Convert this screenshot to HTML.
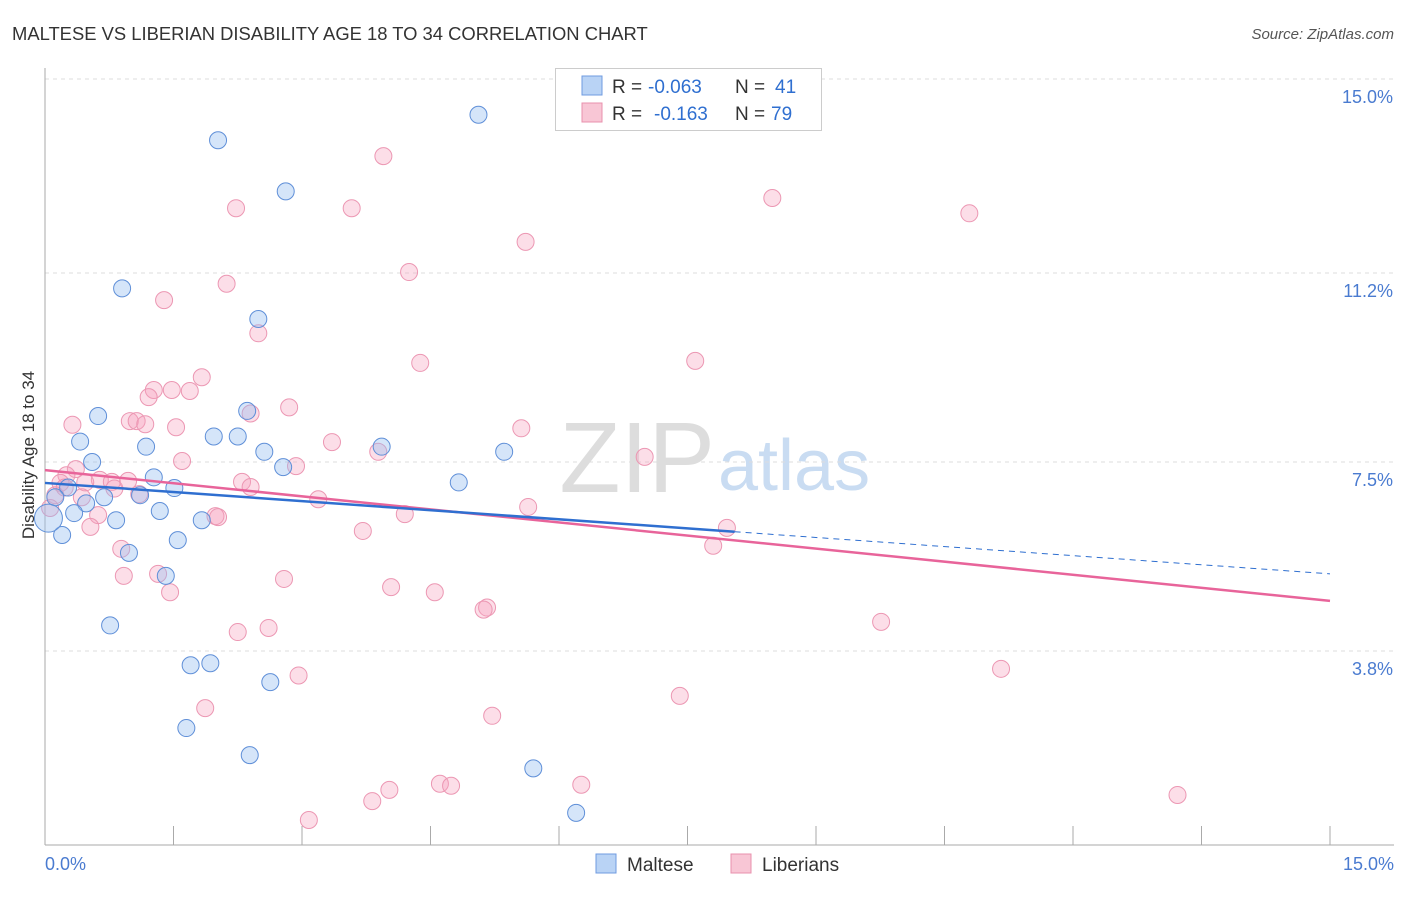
<!DOCTYPE html>
<html><head><meta charset="utf-8"><style>
body{margin:0;background:#fff;font-family:"Liberation Sans",sans-serif;}
svg text{font-family:"Liberation Sans",sans-serif;}
</style></head><body>
<svg id="chart" width="1406" height="892" xmlns="http://www.w3.org/2000/svg">
<text x="12" y="40" font-size="18.4" fill="#333">MALTESE VS LIBERIAN DISABILITY AGE 18 TO 34 CORRELATION CHART</text>
<text x="1394" y="39" font-size="15" fill="#555" font-style="italic" text-anchor="end">Source: ZipAtlas.com</text>
<text x="715" y="492" font-size="100" fill="#ddd" text-anchor="end" font-family="Liberation Serif">ZIP</text>
<text x="718" y="490" font-size="72" fill="#c9dcf2">atlas</text>
<g id="grid"></g><g id="axes"></g><g id="pts"></g><g id="lines"></g>
<text transform="translate(34,455) rotate(-90)" font-size="17" fill="#333" text-anchor="middle">Disability Age 18 to 34</text>
<text x="45" y="870" font-size="18" fill="#4a7bd0">0.0%</text>
<text x="1394" y="870" font-size="18" fill="#4a7bd0" text-anchor="end">15.0%</text>
<g>
<rect x="555.5" y="68.5" width="266" height="62" fill="#fff" stroke="#ccc"/>
<rect x="582" y="76" width="20" height="19" fill="#b9d3f5" stroke="#6f9be0"/>
<rect x="582" y="103" width="20" height="19" fill="#f8c6d5" stroke="#e890ad"/>
<text x="612" y="93" font-size="19" fill="#333">R =</text>
<text x="648" y="93" font-size="19" fill="#2f6fd0">-0.063</text>
<text x="735" y="93" font-size="19" fill="#333">N =</text>
<text x="775" y="93" font-size="19" fill="#2f6fd0">41</text>
<text x="612" y="120" font-size="19" fill="#333">R =</text>
<text x="654" y="120" font-size="19" fill="#2f6fd0">-0.163</text>
<text x="735" y="120" font-size="19" fill="#333">N =</text>
<text x="771" y="120" font-size="19" fill="#2f6fd0">79</text>
</g>
<g>
<rect x="596" y="854" width="20" height="19" fill="#b9d3f5" stroke="#6f9be0"/>
<text x="627" y="871" font-size="19" fill="#333">Maltese</text>
<rect x="731" y="854" width="20" height="19" fill="#f8c6d5" stroke="#e890ad"/>
<text x="762" y="871" font-size="19" fill="#333">Liberians</text>
</g>
</svg>
<script>
const yTicks=[15.0,11.2,7.5,3.8];
const yTickLabels=["15.0%","11.2%","7.5%","3.8%"];
const malteseX=[5.06,2.02,2.81,0.90,2.49,2.36,0.62,0.41,1.97,2.25,1.18,2.56,3.93,5.36,0.55,2.78,1.27,4.83,0.27,1.51,1.11,0.69,0.12,0.48,0.34,1.34,1.83,0.83,0.20,1.55,0.98,1.41,0.76,1.70,1.93,2.63,1.65,2.39,5.70,6.20,0.04];
const malteseY=[14.3,13.8,12.8,10.9,10.3,8.5,8.4,7.9,8.0,8.0,7.8,7.7,7.8,7.7,7.5,7.4,7.2,7.1,7.0,6.99,6.85,6.81,6.81,6.69,6.50,6.54,6.36,6.36,6.07,5.97,5.72,5.27,4.30,3.52,3.56,3.19,2.29,1.76,1.50,0.63,6.4];
const liberianX=[3.95,2.23,3.58,8.49,10.79,5.61,4.25,2.12,1.39,2.49,4.38,7.59,1.83,1.27,1.48,1.69,1.21,2.85,2.40,0.32,0.99,1.07,1.17,1.53,5.56,3.35,3.89,7.00,1.60,2.93,0.36,0.25,0.18,0.64,0.78,2.30,2.40,0.81,0.97,0.43,3.19,0.62,0.53,1.99,2.02,4.20,5.64,7.96,7.80,3.71,0.89,0.92,1.32,2.79,1.46,4.04,4.55,5.16,5.12,2.25,2.61,9.76,11.16,2.96,7.41,1.87,5.22,4.02,3.82,4.61,4.74,6.26,13.22,3.08,0.06,0.12,1.10,0.23,0.47];
const liberianY=[13.49,12.47,12.47,12.67,12.37,11.81,11.22,10.99,10.67,10.02,9.44,9.48,9.16,8.91,8.91,8.89,8.77,8.57,8.45,8.23,8.30,8.30,8.24,8.18,8.16,7.89,7.70,7.60,7.52,7.42,7.36,7.24,7.09,7.15,7.11,7.11,7.01,6.98,7.13,6.81,6.77,6.46,6.23,6.44,6.42,6.48,6.62,6.21,5.86,6.15,5.80,5.27,5.31,5.21,4.95,5.05,4.95,4.65,4.61,4.17,4.25,4.37,3.45,3.32,2.92,2.68,2.53,1.08,0.86,1.20,1.16,1.18,0.98,0.49,6.6,6.85,6.87,7.0,7.1];
const blueLine=[7.09,5.31], pinkLine=[7.34,4.78], blueSolidEnd=8.05;
const X0=45,X1=1330,YB=845,PPY=191.5/3.75;
const xs=v=>X0+(X1-X0)*v/15, ys=v=>YB-v*PPY;
const NS="http://www.w3.org/2000/svg";
function mk(t,a,p){const e=document.createElementNS(NS,t);for(const k in a)e.setAttribute(k,a[k]);p.appendChild(e);return e;}
const grid=document.getElementById('grid');
yTicks.forEach((t,i)=>{
 const l=mk('line',{x1:X0,x2:1394,y1:ys(t),y2:ys(t),stroke:'#ddd','stroke-dasharray':'4,4'},grid);
 
 
 const tx=mk('text',{x:1393,y:ys(t)+24,'font-size':18,fill:'#4a7bd0','text-anchor':'end'},grid);
 tx.textContent=yTickLabels[i];
 
 
});
const ax=document.getElementById('axes');
mk('line',{x1:X0,x2:X0,y1:68,y2:YB,stroke:'#aaa'},ax);
mk('line',{x1:X0,x2:1394,y1:YB,y2:YB,stroke:'#aaa'},ax);
for(let i=0;i<=10;i++){const x=xs(i*1.5);mk('line',{x1:x,x2:x,y1:826,y2:YB,stroke:'#aaa'},ax);}
const pts=document.getElementById('pts');
liberianX.forEach((v,i)=>{
 const c=mk('circle',{cx:xs(v),cy:ys(liberianY[i]),r:8.5,fill:'rgba(245,160,188,0.35)',stroke:'#ec97b3','stroke-width':1},pts);
 
 
});
malteseX.forEach((v,i)=>{
 const c=mk('circle',{cx:xs(v),cy:ys(malteseY[i]),r:i==40?14:8.5,fill:'rgba(150,190,240,0.4)',stroke:'#5f8fd8','stroke-width':1},pts);
 
 
});
const ln=document.getElementById('lines');
const bv=x=>blueLine[0]+(blueLine[1]-blueLine[0])*x/15;
const pv=x=>pinkLine[0]+(pinkLine[1]-pinkLine[0])*x/15;
let l1=mk('line',{x1:xs(0),y1:ys(pv(0)),x2:xs(15),y2:ys(pv(15)),stroke:'#e8649a','stroke-width':2.5},ln);


let l2=mk('line',{x1:xs(0),y1:ys(bv(0)),x2:xs(blueSolidEnd),y2:ys(bv(blueSolidEnd)),stroke:'#2f6fd0','stroke-width':2.5},ln);


let l3=mk('line',{x1:xs(blueSolidEnd),y1:ys(bv(blueSolidEnd)),x2:xs(15),y2:ys(bv(15)),stroke:'#2f6fd0','stroke-width':1,'stroke-dasharray':'6,5'},ln);


</script>
</body></html>
